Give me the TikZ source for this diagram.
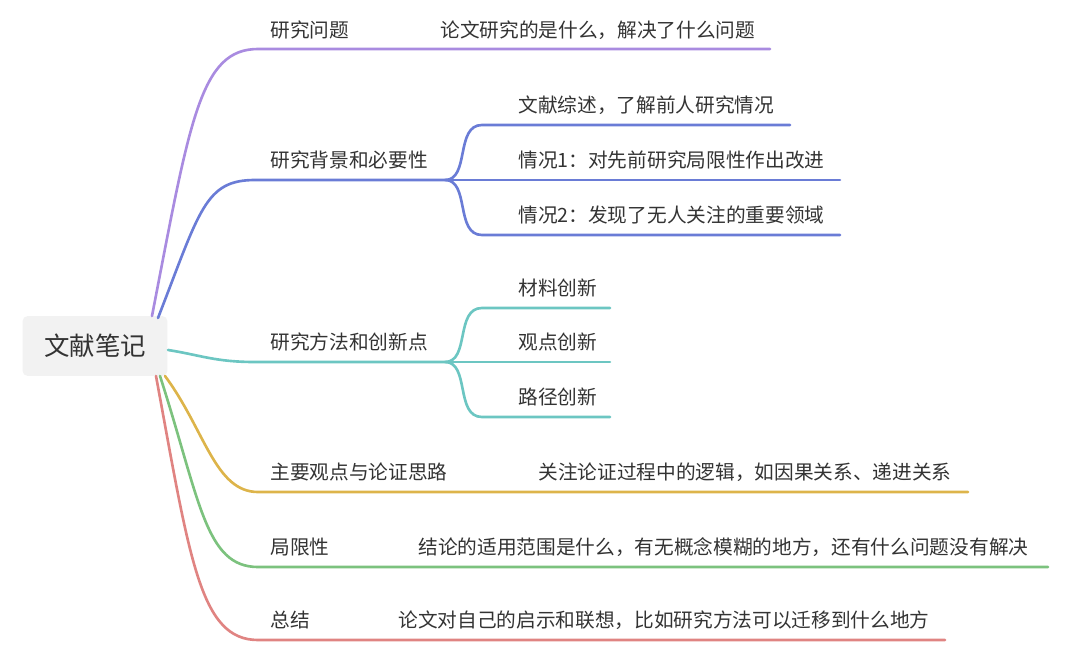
\documentclass[tikz,border=0pt]{standalone}
\usepackage{fontspec}
\setmainfont{Noto Sans CJK SC}
\usetikzlibrary{positioning}
\definecolor{cpurple}{HTML}{A98BE0}
\definecolor{cblue}{HTML}{6A7CD6}
\definecolor{cteal}{HTML}{6CC6C2}
\definecolor{cgold}{HTML}{DDB44A}
\definecolor{cgreen}{HTML}{7CC27E}
\definecolor{cred}{HTML}{E08482}
\definecolor{cgray}{HTML}{F2F2F2}
\definecolor{ctext}{HTML}{333333}

\begin{document}
\begin{tikzpicture}[
  x=0.02cm, y=-0.02cm,
  every node/.style={font=\fontsize{11.2}{13}\selectfont, text=ctext, anchor=west, inner sep=0pt},
  rootbox/.style={fill=cgray, rounded corners=3pt, minimum width=2.9cm, minimum height=1.2cm, anchor=center, font=\fontsize{14.5}{17}\selectfont},
  branch/.style={line width=1.5pt, line cap=round}
]
\useasboundingbox (0,0) rectangle (1080,666);

% Root
\node[rootbox] (root) at (95,346) {文献笔记};

% Main topics
\node (q)   at (270,30)  {研究问题};
\node (bg)  at (270,160) {研究背景和必要性};
\node (me)  at (270,342) {研究方法和创新点};
\node (vw)  at (270,472) {主要观点与论证思路};
\node (li)  at (270,547) {局限性};
\node (su)  at (270,620) {总结};

% Details
\node (qd)  at (440,30)  {论文研究的是什么，解决了什么问题};
\node (b1)  at (518,105) {文献综述，了解前人研究情况};
\node (b2)  at (518,160) {情况1：对先前研究局限性作出改进};
\node (b3)  at (518,215) {情况2：发现了无人关注的重要领域};
\node (m1)  at (518,288) {材料创新};
\node (m2)  at (518,342) {观点创新};
\node (m3)  at (518,397) {路径创新};
\node (vd)  at (538,472) {关注论证过程中的逻辑，如因果关系、递进关系};
\node (ld)  at (418,547) {结论的适用范围是什么，有无概念模糊的地方，还有什么问题没有解决};
\node (sd)  at (398,620) {论文对自己的启示和联想，比如研究方法可以迁移到什么地方};

% Line ends
\coordinate (qe) at (770,49);
\coordinate (bgs) at (255,180); \coordinate (bge) at (445,180);
\coordinate (b1s) at (482,125); \coordinate (b1e) at (790,125);
\coordinate (b2s) at (482,180); \coordinate (b2e) at (840,180);
\coordinate (b3s) at (482,235); \coordinate (b3e) at (840,235);
\coordinate (mes) at (255,362); \coordinate (mee) at (445,362);
\coordinate (m1s) at (482,308); \coordinate (m1e) at (610,308);
\coordinate (m2s) at (482,362); \coordinate (m2e) at (610,362);
\coordinate (m3s) at (482,417); \coordinate (m3e) at (610,417);
\coordinate (ve) at (968,492);
\coordinate (le) at (1048,567);
\coordinate (se) at (945,640);

% Branches
\draw[branch, cpurple] (152,316) .. controls (190,120) and (200,49) .. (258,49) -- (qe);
\draw[branch, cblue] (158,318) .. controls (200,210) and (205,180) .. (bgs) -- (bge);
\draw[branch, cblue] (bge) .. controls (470,180) and (455,125) .. (b1s) -- (b1e);
\draw[branch, cblue] (bge) -- (b2s) -- (b2e);
\draw[branch, cblue] (bge) .. controls (470,180) and (455,235) .. (b3s) -- (b3e);
\draw[branch, cteal] (168,350) .. controls (200,355) and (215,362) .. (mes) -- (mee);
\draw[branch, cteal] (mee) .. controls (470,362) and (455,308) .. (m1s) -- (m1e);
\draw[branch, cteal] (mee) -- (m2s) -- (m2e);
\draw[branch, cteal] (mee) .. controls (470,362) and (455,417) .. (m3s) -- (m3e);
\draw[branch, cgold] (165,376) .. controls (205,430) and (215,492) .. (258,492) -- (ve);
\draw[branch, cgreen] (160,376) .. controls (200,500) and (205,567) .. (258,567) -- (le);
\draw[branch, cred] (156,376) .. controls (190,560) and (200,640) .. (258,640) -- (se);
\end{tikzpicture}
\end{document}
